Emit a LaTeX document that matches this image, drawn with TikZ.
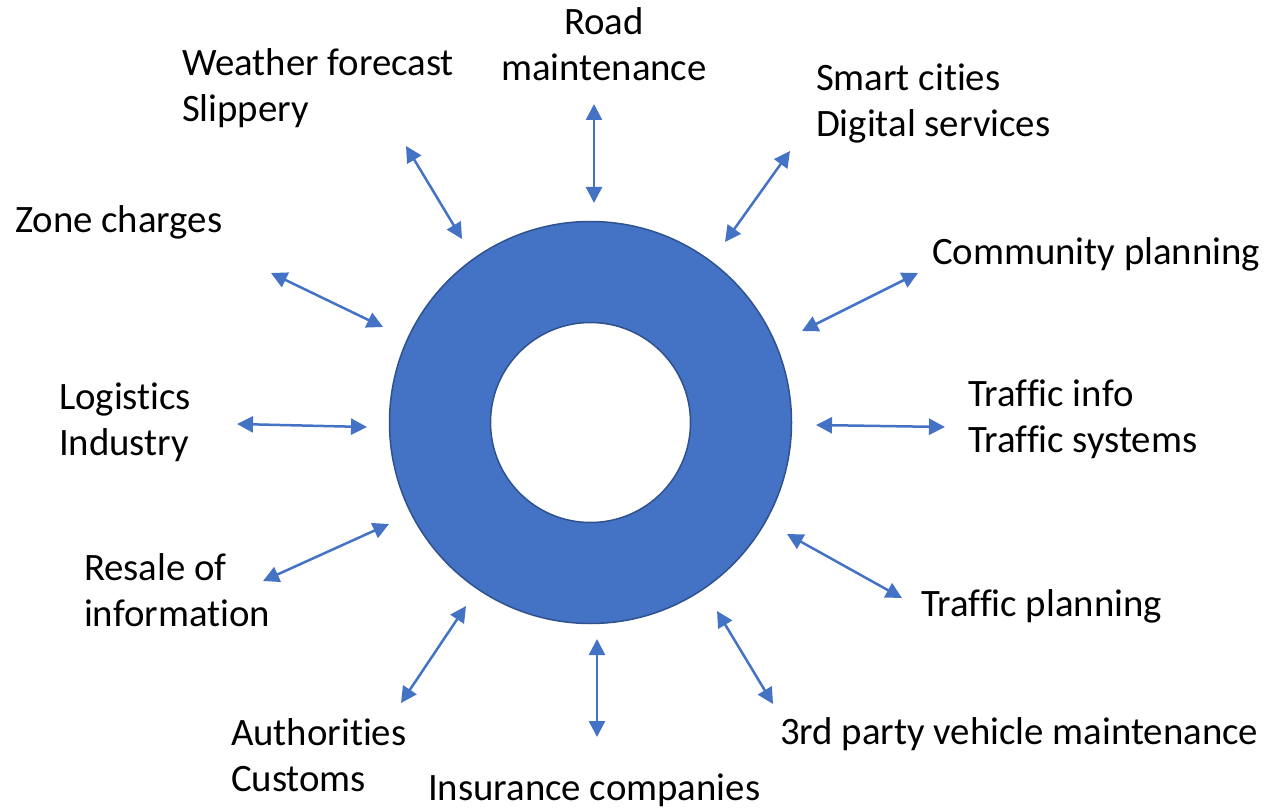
\documentclass[tikz,border=0pt]{standalone}
\usepackage{fontspec}
\setmainfont{Carlito}[Ligatures={NoCommon,NoRare,NoContextual}]
\usetikzlibrary{arrows.meta}
\definecolor{ringblue}{HTML}{4472C4}
\definecolor{ringedge}{HTML}{2F528F}
\tikzset{
  lbl/.style={inner sep=0pt, outer sep=0pt, anchor=base west, align=left,
    font=\fontsize{38.8}{46}\selectfont, text=black},
  lblc/.style={lbl, anchor=base, align=center},
  link/.style={draw=ringblue, line width=2.5pt,
    {Triangle[length=16pt,width=16pt]}-{Triangle[length=16pt,width=16pt]}},
  ringfill/.style={fill=ringblue, even odd rule},
  ringline/.style={draw=ringedge, line width=1.5pt}
}
\begin{document}
\begin{tikzpicture}[x=1pt,y=-1pt]
\useasboundingbox (0,0) rectangle (1265,810);
% ring
\coordinate (c) at (590.5,422.5);
\fill[ringfill] (c) circle[radius=201] (c) circle[radius=100];
\draw[ringline] (c) circle[radius=201];
\draw[ringline] (c) circle[radius=100];
% labels (base = baseline of the last line)
\node[lbl] (weather) at (182,121.5) {Weather forecast\\Slippery};
\node[lblc] (road) at (604,81) {Road\\maintenance};
\node[lbl] (smart) at (816,137) {Smart cities\\Digital services};
\node[lbl] (zone) at (15,233) {Zone charges};
\node[lbl] (community) at (932,265) {Community planning};
\node[lbl] (logistics) at (59,455) {Logistics\\Industry};
\node[lbl] (trinfo) at (968,452) {Traffic info\\Traffic systems};
\node[lbl] (resale) at (84,626) {Resale of\\information};
\node[lbl] (trplan) at (921,616) {Traffic planning};
\node[lbl] (auth) at (231,791) {Authorities\\Customs};
\node[lbl] (third) at (780,744) {3rd party vehicle maintenance};
\node[lbl] (insur) at (428,800) {Insurance companies};
% arrow end points
\coordinate (w1) at (406,146);  \coordinate (w2) at (462,239);
\coordinate (r1) at (594,104);  \coordinate (r2) at (594,203);
\coordinate (s1) at (790,151);  \coordinate (s2) at (725,242);
\coordinate (cp1) at (918,273); \coordinate (cp2) at (802,331);
\coordinate (ti1) at (945,427); \coordinate (ti2) at (816,425);
\coordinate (tp1) at (902,598); \coordinate (tp2) at (787,534);
\coordinate (th1) at (773,704); \coordinate (th2) at (717,611);
\coordinate (in1) at (597,737); \coordinate (in2) at (597,639);
\coordinate (au1) at (401,703); \coordinate (au2) at (466,606);
\coordinate (re1) at (263,581); \coordinate (re2) at (389,524);
\coordinate (lo1) at (237,424); \coordinate (lo2) at (367,427);
\coordinate (zo1) at (271,273); \coordinate (zo2) at (383,327);
\draw[link] (w1) -- (w2);
\draw[link] (r1) -- (r2);
\draw[link] (s1) -- (s2);
\draw[link] (cp1) -- (cp2);
\draw[link] (ti1) -- (ti2);
\draw[link] (tp1) -- (tp2);
\draw[link] (th1) -- (th2);
\draw[link] (in1) -- (in2);
\draw[link] (au1) -- (au2);
\draw[link] (re1) -- (re2);
\draw[link] (lo1) -- (lo2);
\draw[link] (zo1) -- (zo2);
\end{tikzpicture}
\end{document}
